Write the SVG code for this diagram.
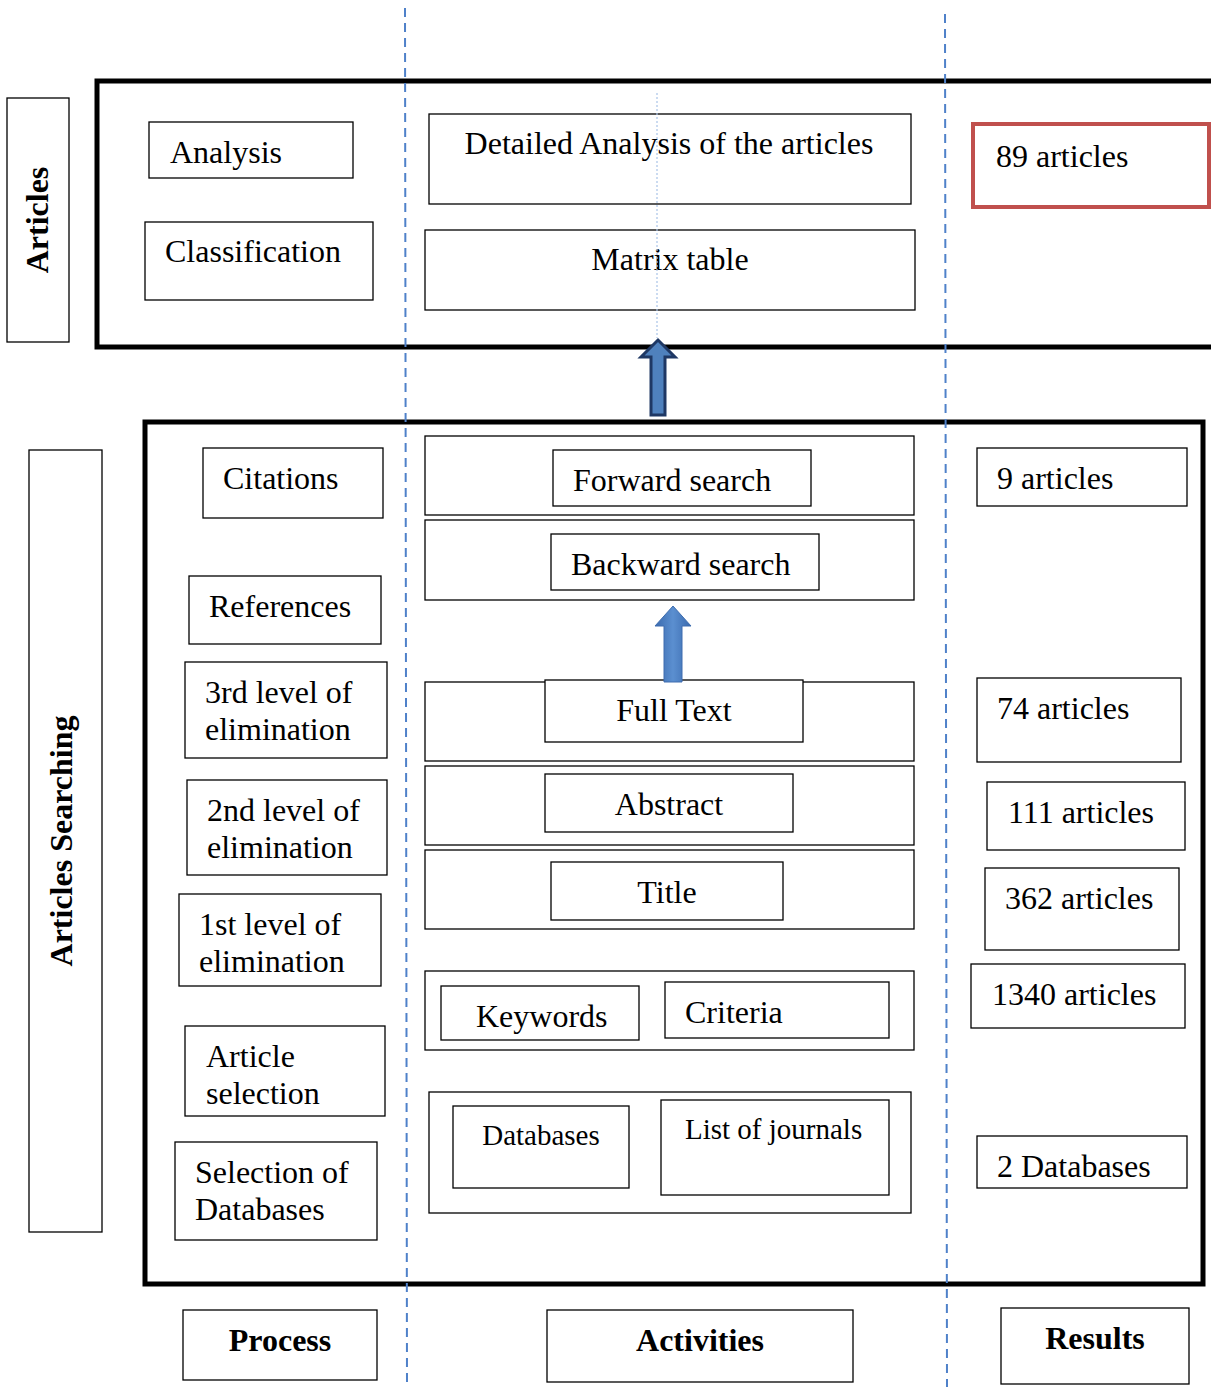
<svg xmlns="http://www.w3.org/2000/svg" width="1211" height="1387" viewBox="0 0 1211 1387">
  <defs>
    <style>
      .box { fill: #fff; stroke: #000; stroke-width: 1.3; }
      .frame { fill: none; stroke: #000; stroke-width: 5; }
      .t { font-family: "Liberation Serif", Tinos, "Times New Roman", serif; font-size: 32px; fill: #000; }
      .s { font-size: 29px; }
      .b { font-family: "Liberation Serif", Tinos, "Times New Roman", serif; font-size: 32px; font-weight: bold; fill: #000; }
      .c { text-anchor: middle; }
      .guide { stroke: #4F81C9; stroke-width: 2; stroke-dasharray: 9 6; fill: none; }
    </style>
    <linearGradient id="arrowFill" x1="0" y1="0" x2="1" y2="0">
      <stop offset="0" stop-color="#3A6AAE"/>
      <stop offset="0.5" stop-color="#5B8FD0"/>
      <stop offset="1" stop-color="#3A6AAE"/>
    </linearGradient>
  </defs>

  <!-- outer frames -->
  <g id="frame-articles"><rect class="frame" x="97" y="81" width="1120" height="266"/></g>
  <g id="frame-searching"><rect class="frame" x="145" y="422" width="1058" height="862"/></g>

  <!-- side labels -->
  <g id="label-articles">
    <rect class="box" x="7" y="98" width="62" height="244"/>
    <text class="b c" transform="translate(48,220) rotate(-90)">Articles</text>
  </g>
  <g id="label-searching">
    <rect class="box" x="29" y="450" width="73" height="782"/>
    <text class="b c" transform="translate(72,841) rotate(-90)">Articles Searching</text>
  </g>

  <!-- analysis stage -->
  <g id="analysis"><rect class="box" x="149" y="122" width="204" height="56"/><text class="t" x="170" y="163">Analysis</text></g>
  <g id="classification"><rect class="box" x="145" y="222" width="228" height="78"/><text class="t" x="165" y="262">Classification</text></g>
  <g id="detailed-analysis"><rect class="box" x="429" y="114" width="482" height="90"/><text class="t c" x="669" y="154">Detailed Analysis of the articles</text></g>
  <g id="matrix-table"><rect class="box" x="425" y="230" width="490" height="80"/><text class="t c" x="670" y="270">Matrix table</text></g>
  <g id="result-89"><rect x="973" y="124" width="236" height="83" fill="#fff" stroke="#C0504D" stroke-width="4"/><text class="t" x="996" y="167">89 articles</text></g>

  <!-- process column -->
  <g id="citations"><rect class="box" x="203" y="448" width="180" height="70"/><text class="t" x="223" y="489">Citations</text></g>
  <g id="references"><rect class="box" x="189" y="576" width="192" height="68"/><text class="t" x="209" y="617">References</text></g>
  <g id="level3"><rect class="box" x="185" y="662" width="202" height="96"/><text class="t" x="205" y="703">3rd level of</text><text class="t" x="205" y="740">elimination</text></g>
  <g id="level2"><rect class="box" x="187" y="780" width="200" height="95"/><text class="t" x="207" y="821">2nd level of</text><text class="t" x="207" y="858">elimination</text></g>
  <g id="level1"><rect class="box" x="179" y="894" width="202" height="92"/><text class="t" x="199" y="935">1st level of</text><text class="t" x="199" y="972">elimination</text></g>
  <g id="article-selection"><rect class="box" x="185" y="1026" width="200" height="90"/><text class="t" x="206" y="1067">Article</text><text class="t" x="206" y="1104">selection</text></g>
  <g id="db-selection"><rect class="box" x="175" y="1142" width="202" height="98"/><text class="t" x="195" y="1183">Selection of</text><text class="t" x="195" y="1220">Databases</text></g>

  <!-- activities column -->
  <g id="forward-search"><rect class="box" x="425" y="436" width="489" height="79"/><rect class="box" x="553" y="450" width="258" height="56"/><text class="t" x="573" y="491">Forward search</text></g>
  <g id="backward-search"><rect class="box" x="425" y="520" width="489" height="80"/><rect class="box" x="551" y="534" width="268" height="56"/><text class="t" x="571" y="575">Backward search</text></g>
  <g id="full-text"><rect class="box" x="425" y="682" width="489" height="79"/><rect class="box" x="545" y="680" width="258" height="62"/><text class="t c" x="674" y="721">Full Text</text></g>
  <g id="abstract"><rect class="box" x="425" y="766" width="489" height="79"/><rect class="box" x="545" y="774" width="248" height="58"/><text class="t c" x="669" y="815">Abstract</text></g>
  <g id="title"><rect class="box" x="425" y="850" width="489" height="79"/><rect class="box" x="551" y="862" width="232" height="58"/><text class="t c" x="667" y="903">Title</text></g>
  <g id="keywords-criteria"><rect class="box" x="425" y="971" width="489" height="79"/><rect class="box" x="441" y="986" width="198" height="54"/><text class="t" x="476" y="1027">Keywords</text><rect class="box" x="665" y="982" width="224" height="56"/><text class="t" x="685" y="1023">Criteria</text></g>
  <g id="databases-journals"><rect class="box" x="429" y="1092" width="482" height="121"/><rect class="box" x="453" y="1106" width="176" height="82"/><text class="t s c" x="541" y="1145">Databases</text><rect class="box" x="661" y="1100" width="228" height="95"/><text class="t s" x="685" y="1139">List of journals</text></g>

  <!-- results column -->
  <g id="result-9"><rect class="box" x="977" y="448" width="210" height="58"/><text class="t" x="997" y="489">9 articles</text></g>
  <g id="result-74"><rect class="box" x="977" y="678" width="204" height="84"/><text class="t" x="997" y="719">74 articles</text></g>
  <g id="result-111"><rect class="box" x="987" y="782" width="198" height="68"/><text class="t" x="1008" y="823">111 articles</text></g>
  <g id="result-362"><rect class="box" x="985" y="868" width="194" height="82"/><text class="t" x="1005" y="909">362 articles</text></g>
  <g id="result-1340"><rect class="box" x="971" y="964" width="214" height="64"/><text class="t" x="992" y="1005">1340 articles</text></g>
  <g id="result-2db"><rect class="box" x="977" y="1136" width="210" height="52"/><text class="t" x="997" y="1177">2 Databases</text></g>

  <!-- column headers -->
  <g id="header-process"><rect class="box" x="183" y="1310" width="194" height="70"/><text class="b c" x="280" y="1351">Process</text></g>
  <g id="header-activities"><rect class="box" x="547" y="1310" width="306" height="72"/><text class="b c" x="700" y="1351">Activities</text></g>
  <g id="header-results"><rect class="box" x="1001" y="1308" width="188" height="76"/><text class="b c" x="1095" y="1349">Results</text></g>

  <!-- connectors: column guides and flow arrows -->
  <g id="connectors">
    <line class="guide" x1="405" y1="8" x2="407" y2="1387"/>
    <line class="guide" x1="945" y1="14" x2="947" y2="1387"/>
    <line x1="657" y1="93" x2="657" y2="338" stroke="#A9C4E8" stroke-width="1.2" stroke-dasharray="2 2"/>
    <polygon points="651,415 651,357 641,357 658,340 675,357 665,357 665,415" fill="#4F81BD" stroke="#1F3864" stroke-width="3"/>
    <polygon points="664,682 664,626 655,626 673,606 691,626 682,626 682,682" fill="url(#arrowFill)" stroke="#3E6DAF" stroke-width="1"/>
  </g>
</svg>
